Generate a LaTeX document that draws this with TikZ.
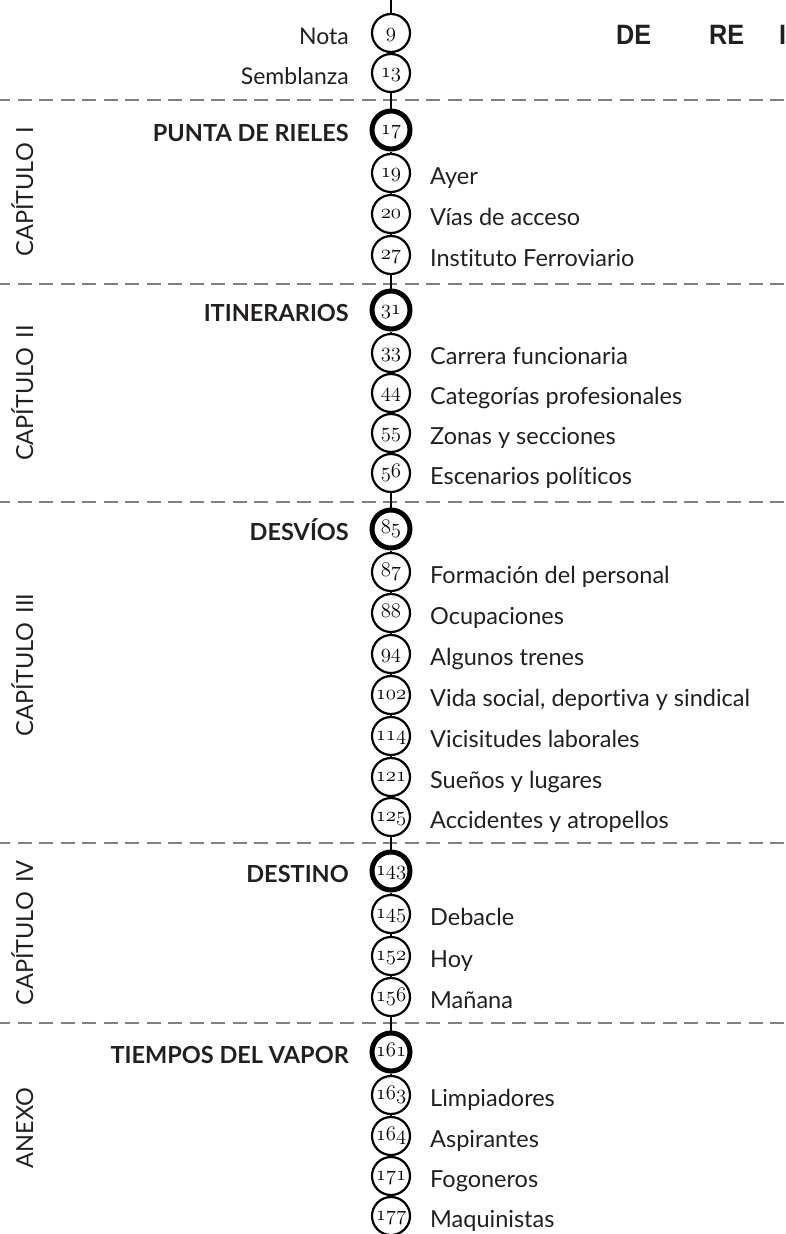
\documentclass[tikz,border=0pt]{standalone}
\usepackage{fontspec}
\newfontfamily\tocfont[Ligatures=NoCommon]{Lato}
\newfontfamily\titlefont[FakeStretch=0.9]{Liberation Sans}
\newcommand\onum[1]{{\fontsize{20}{20}\usefont{OML}{cmm}{m}{it}#1}}
\definecolor{ink}{HTML}{231F20}
\definecolor{sep}{HTML}{808080}
\begin{document}
\begin{tikzpicture}[x=1pt,y=-1pt,
	stop/.style={draw,circle,line width=2.2pt,minimum size=38pt,inner sep=0pt,text height=8.6pt,text depth=0pt},
	bigstop/.style={stop,line width=5pt},
	rail/.style={line width=2pt},
	sepline/.style={draw=sep,line width=2.2pt,dash pattern=on 14pt off 7.5pt,dash phase=4pt},
	tocleft/.style={anchor=base east,yshift=-11pt,inner sep=0pt,text=ink,font=\tocfont\bfseries\fontsize{23.5}{27}\selectfont},
	tocleftplain/.style={tocleft,font=\tocfont\fontsize{23}{27}\selectfont},
	tocright/.style={anchor=base west,yshift=-11pt,inner sep=0pt,text=ink,font=\tocfont\fontsize{23.5}{27}\selectfont},
	chapter/.style={rotate=90,anchor=base,inner sep=0pt,text=ink,font=\tocfont\fontsize{23.5}{27}\selectfont}]
	\useasboundingbox (0,0) rectangle (785,1234);

	% title
	\node [anchor=base west,inner sep=0pt,text=ink,font=\titlefont\bfseries\fontsize{28}{28}\selectfont] (title) at (616,44) {DE\hspace{58pt}RE\hspace{35pt}I};

	% separators
	\draw [sepline] (0,100) -- (785,100);
	\draw [sepline] (0,284) -- (785,284);
	\draw [sepline] (0,502) -- (785,502);
	\draw [sepline] (0,843) -- (785,843);
	\draw [sepline] (0,1023) -- (785,1023);

	% chapters
	\node [chapter] (C1) at (33,192) {CAPÍTULO\hspace{9pt}I};
	\node [chapter] (C2) at (33,393) {CAPÍTULO\hspace{9pt}II};
	\node [chapter] (C3) at (33,665) {CAPÍTULO\hspace{9pt}III};
	\node [chapter] (C4) at (33,933) {CAPÍTULO\hspace{9pt}IV};
	\node [chapter] (C5) at (33,1128) {ANEXO};

	% stops
	\coordinate (top) at (391,0);
	\node [stop] (P9) at (391,33) {\onum{9}};
	\node [stop] (P13) at (391,73) {\onum{13}};
	\node [bigstop] (P17) at (391,130) {\onum{17}};
	\node [stop] (P19) at (391,173) {\onum{19}};
	\node [stop] (P20) at (391,214) {\onum{20}};
	\node [stop] (P27) at (391,255) {\onum{27}};
	\node [bigstop] (P31) at (391,310) {\onum{31}};
	\node [stop] (P33) at (391,353) {\onum{33}};
	\node [stop] (P44) at (391,393) {\onum{44}};
	\node [stop] (P55) at (391,433) {\onum{55}};
	\node [stop] (P56) at (391,473) {\onum{56}};
	\node [bigstop] (P85) at (391,529) {\onum{85}};
	\node [stop] (P87) at (391,572) {\onum{87}};
	\node [stop] (P88) at (391,613) {\onum{88}};
	\node [stop] (P94) at (391,654) {\onum{94}};
	\node [stop] (P102) at (391,695) {\onum{102}};
	\node [stop] (P114) at (391,736) {\onum{114}};
	\node [stop] (P121) at (391,777) {\onum{121}};
	\node [stop] (P125) at (391,817) {\onum{125}};
	\node [bigstop] (P143) at (391,871) {\onum{143}};
	\node [stop] (P145) at (391,914) {\onum{145}};
	\node [stop] (P152) at (391,956) {\onum{152}};
	\node [stop] (P156) at (391,997) {\onum{156}};
	\node [bigstop] (P161) at (391,1052) {\onum{161}};
	\node [stop] (P163) at (391,1095) {\onum{163}};
	\node [stop] (P164) at (391,1136) {\onum{164}};
	\node [stop] (P171) at (391,1176) {\onum{171}};
	\node [stop] (P177) at (391,1216) {\onum{177}};

	% rail
	\draw [rail] (top) -- (P9);
	\draw [rail] (P9) -- (P13);
	\draw [rail] (P13) -- (P17);
	\draw [rail] (P17) -- (P19);
	\draw [rail] (P19) -- (P20);
	\draw [rail] (P20) -- (P27);
	\draw [rail] (P27) -- (P31);
	\draw [rail] (P31) -- (P33);
	\draw [rail] (P33) -- (P44);
	\draw [rail] (P44) -- (P55);
	\draw [rail] (P55) -- (P56);
	\draw [rail] (P56) -- (P85);
	\draw [rail] (P85) -- (P87);
	\draw [rail] (P87) -- (P88);
	\draw [rail] (P88) -- (P94);
	\draw [rail] (P94) -- (P102);
	\draw [rail] (P102) -- (P114);
	\draw [rail] (P114) -- (P121);
	\draw [rail] (P121) -- (P125);
	\draw [rail] (P125) -- (P143);
	\draw [rail] (P143) -- (P145);
	\draw [rail] (P145) -- (P152);
	\draw [rail] (P152) -- (P156);
	\draw [rail] (P156) -- (P161);
	\draw [rail] (P161) -- (P163);
	\draw [rail] (P163) -- (P164);
	\draw [rail] (P164) -- (P171);
	\draw [rail] (P171) -- (P177);

	% left labels
	\node [tocleftplain] (nota) at (349,33) {Nota};
	\node [tocleftplain] (semblanza) at (349,73) {Semblanza};
	\node [tocleft] (punta) at (349,130) {PUNTA DE RIELES};
	\node [tocleft] (itinerarios) at (349,310) {ITINERARIOS};
	\node [tocleft] (desvios) at (349,529) {DESVÍOS};
	\node [tocleft] (destino) at (349,871) {DESTINO};
	\node [tocleft] (vapor) at (349,1052) {TIEMPOS DEL VAPOR};

	% right labels
	\node [tocright] (ayer) at (430,173) {Ayer};
	\node [tocright] (vias) at (430,214) {Vías de acceso};
	\node [tocright] (instituto) at (430,255) {Instituto Ferroviario};
	\node [tocright] (carrera) at (430,353) {Carrera funcionaria};
	\node [tocright] (categorias) at (430,393) {Categorías profesionales};
	\node [tocright] (zonas) at (430,433) {Zonas y secciones};
	\node [tocright] (escenarios) at (430,473) {Escenarios políticos};
	\node [tocright] (formacion) at (430,572) {Formación del personal};
	\node [tocright] (ocupaciones) at (430,613) {Ocupaciones};
	\node [tocright] (trenes) at (430,654) {Algunos trenes};
	\node [tocright] (vida) at (430,695) {Vida social, deportiva y sindical};
	\node [tocright] (vicisitudes) at (430,736) {Vicisitudes laborales};
	\node [tocright] (suenos) at (430,777) {Sueños y lugares};
	\node [tocright] (accidentes) at (430,817) {Accidentes y atropellos};
	\node [tocright] (debacle) at (430,914) {Debacle};
	\node [tocright] (hoy) at (430,956) {Hoy};
	\node [tocright] (manana) at (430,997) {Mañana};
	\node [tocright] (limpiadores) at (430,1095) {Limpiadores};
	\node [tocright] (aspirantes) at (430,1136) {Aspirantes};
	\node [tocright] (fogoneros) at (430,1176) {Fogoneros};
	\node [tocright] (maquinistas) at (430,1216) {Maquinistas};
\end{tikzpicture}
\end{document}
